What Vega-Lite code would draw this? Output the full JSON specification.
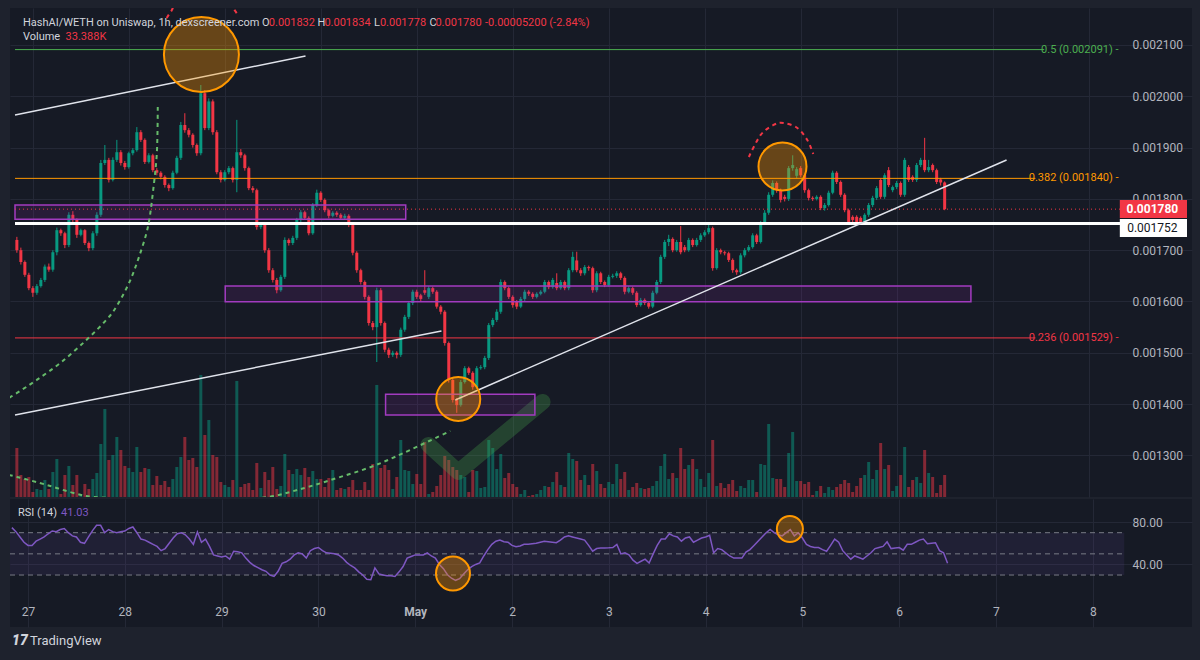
{
"$schema":"https://vega.github.io/schema/vega-lite/v6.json",
"background":"#1e222d",
"padding":{"left":8,"top":8,"right":10,"bottom":5},
"spacing":2,
"config":{"view":{"stroke":null},"font":"Roboto","axis":{"labelFont":"Roboto"},"text":{"font":"Roboto"}},
"datasets":{"k":[
{"t":"2024-04-26T20:00","o":0.001720,"h":0.001726,"l":0.001695,"c":0.001700,"v":74480,"r":74.8},
{"t":"2024-04-26T21:00","o":0.001700,"h":0.001705,"l":0.001672,"c":0.001677,"v":33440,"r":71},
{"t":"2024-04-26T22:00","o":0.001677,"h":0.001680,"l":0.001648,"c":0.001652,"v":27360,"r":66},
{"t":"2024-04-26T23:00","o":0.001652,"h":0.001656,"l":0.001622,"c":0.001626,"v":30400,"r":61},
{"t":"2024-04-27T00:00","o":0.001626,"h":0.001630,"l":0.001609,"c":0.001617,"v":7600,"r":58},
{"t":"2024-04-27T01:00","o":0.001617,"h":0.001634,"l":0.001613,"c":0.001630,"v":12160,"r":58},
{"t":"2024-04-27T02:00","o":0.001630,"h":0.001646,"l":0.001627,"c":0.001642,"v":10640,"r":62},
{"t":"2024-04-27T03:00","o":0.001642,"h":0.001672,"l":0.001638,"c":0.001668,"v":25840,"r":64},
{"t":"2024-04-27T04:00","o":0.001668,"h":0.001674,"l":0.001658,"c":0.001662,"v":12160,"r":66},
{"t":"2024-04-27T05:00","o":0.001662,"h":0.001700,"l":0.001658,"c":0.001696,"v":38000,"r":69},
{"t":"2024-04-27T06:00","o":0.001696,"h":0.001744,"l":0.001690,"c":0.001739,"v":57760,"r":71.6},
{"t":"2024-04-27T07:00","o":0.001739,"h":0.001742,"l":0.001728,"c":0.001733,"v":4560,"r":71},
{"t":"2024-04-27T08:00","o":0.001733,"h":0.001736,"l":0.001704,"c":0.001710,"v":33440,"r":73},
{"t":"2024-04-27T09:00","o":0.001710,"h":0.001774,"l":0.001706,"c":0.001769,"v":47120,"r":74},
{"t":"2024-04-27T10:00","o":0.001769,"h":0.001776,"l":0.001754,"c":0.001759,"v":18240,"r":70},
{"t":"2024-04-27T11:00","o":0.001759,"h":0.001762,"l":0.001724,"c":0.001730,"v":33440,"r":67},
{"t":"2024-04-27T12:00","o":0.001730,"h":0.001742,"l":0.001727,"c":0.001739,"v":4560,"r":66},
{"t":"2024-04-27T13:00","o":0.001739,"h":0.001741,"l":0.001710,"c":0.001714,"v":19760,"r":61},
{"t":"2024-04-27T14:00","o":0.001714,"h":0.001717,"l":0.001698,"c":0.001704,"v":12160,"r":60},
{"t":"2024-04-27T15:00","o":0.001704,"h":0.001737,"l":0.001700,"c":0.001733,"v":27360,"r":66},
{"t":"2024-04-27T16:00","o":0.001733,"h":0.001774,"l":0.001728,"c":0.001769,"v":36480,"r":72},
{"t":"2024-04-27T17:00","o":0.001769,"h":0.001876,"l":0.001765,"c":0.001870,"v":80560,"r":77},
{"t":"2024-04-27T18:00","o":0.001870,"h":0.001905,"l":0.001866,"c":0.001876,"v":133760,"r":77},
{"t":"2024-04-27T19:00","o":0.001876,"h":0.001880,"l":0.001832,"c":0.001837,"v":56240,"r":70},
{"t":"2024-04-27T20:00","o":0.001837,"h":0.001881,"l":0.001834,"c":0.001876,"v":63840,"r":73},
{"t":"2024-04-27T21:00","o":0.001876,"h":0.001915,"l":0.001872,"c":0.001891,"v":91200,"r":71},
{"t":"2024-04-27T22:00","o":0.001891,"h":0.001895,"l":0.001865,"c":0.001870,"v":71440,"r":70},
{"t":"2024-04-27T23:00","o":0.001870,"h":0.001874,"l":0.001857,"c":0.001862,"v":47120,"r":71},
{"t":"2024-04-28T00:00","o":0.001862,"h":0.001892,"l":0.001859,"c":0.001889,"v":44080,"r":71.5},
{"t":"2024-04-28T01:00","o":0.001889,"h":0.001899,"l":0.001885,"c":0.001895,"v":38000,"r":74},
{"t":"2024-04-28T02:00","o":0.001895,"h":0.001940,"l":0.001892,"c":0.001930,"v":76000,"r":75.4},
{"t":"2024-04-28T03:00","o":0.001930,"h":0.001934,"l":0.001911,"c":0.001915,"v":38000,"r":70},
{"t":"2024-04-28T04:00","o":0.001915,"h":0.001918,"l":0.001868,"c":0.001872,"v":44080,"r":64},
{"t":"2024-04-28T05:00","o":0.001872,"h":0.001889,"l":0.001869,"c":0.001885,"v":42560,"r":63},
{"t":"2024-04-28T06:00","o":0.001885,"h":0.001888,"l":0.001852,"c":0.001856,"v":18240,"r":61},
{"t":"2024-04-28T07:00","o":0.001856,"h":0.001860,"l":0.001846,"c":0.001851,"v":31920,"r":59},
{"t":"2024-04-28T08:00","o":0.001851,"h":0.001854,"l":0.001838,"c":0.001843,"v":18240,"r":57},
{"t":"2024-04-28T09:00","o":0.001843,"h":0.001846,"l":0.001822,"c":0.001827,"v":24320,"r":53},
{"t":"2024-04-28T10:00","o":0.001827,"h":0.001830,"l":0.001815,"c":0.001821,"v":15200,"r":55},
{"t":"2024-04-28T11:00","o":0.001821,"h":0.001855,"l":0.001818,"c":0.001851,"v":27360,"r":60},
{"t":"2024-04-28T12:00","o":0.001851,"h":0.001884,"l":0.001848,"c":0.001880,"v":45600,"r":65},
{"t":"2024-04-28T13:00","o":0.001880,"h":0.001950,"l":0.001876,"c":0.001944,"v":60800,"r":69},
{"t":"2024-04-28T14:00","o":0.001944,"h":0.001967,"l":0.001929,"c":0.001934,"v":91200,"r":70},
{"t":"2024-04-28T15:00","o":0.001934,"h":0.001938,"l":0.001920,"c":0.001925,"v":56240,"r":68},
{"t":"2024-04-28T16:00","o":0.001925,"h":0.001928,"l":0.001900,"c":0.001905,"v":59280,"r":64},
{"t":"2024-04-28T17:00","o":0.001905,"h":0.001908,"l":0.001884,"c":0.001889,"v":45600,"r":59},
{"t":"2024-04-28T18:00","o":0.001889,"h":0.002022,"l":0.001885,"c":0.002006,"v":185440,"r":70.6},
{"t":"2024-04-28T19:00","o":0.002006,"h":0.002012,"l":0.001934,"c":0.001938,"v":94240,"r":61},
{"t":"2024-04-28T20:00","o":0.001938,"h":0.001996,"l":0.001934,"c":0.001990,"v":117040,"r":64},
{"t":"2024-04-28T21:00","o":0.001990,"h":0.001994,"l":0.001925,"c":0.001930,"v":63840,"r":57},
{"t":"2024-04-28T22:00","o":0.001930,"h":0.001934,"l":0.001848,"c":0.001852,"v":60800,"r":49},
{"t":"2024-04-28T23:00","o":0.001852,"h":0.001856,"l":0.001832,"c":0.001837,"v":22800,"r":48},
{"t":"2024-04-29T00:00","o":0.001837,"h":0.001856,"l":0.001834,"c":0.001852,"v":18240,"r":47},
{"t":"2024-04-29T01:00","o":0.001852,"h":0.001864,"l":0.001848,"c":0.001860,"v":15200,"r":48},
{"t":"2024-04-29T02:00","o":0.001860,"h":0.001863,"l":0.001832,"c":0.001837,"v":25840,"r":45},
{"t":"2024-04-29T03:00","o":0.001837,"h":0.001954,"l":0.001813,"c":0.001891,"v":176320,"r":52.5},
{"t":"2024-04-29T04:00","o":0.001891,"h":0.001897,"l":0.001880,"c":0.001885,"v":15200,"r":52},
{"t":"2024-04-29T05:00","o":0.001885,"h":0.001888,"l":0.001855,"c":0.001860,"v":19760,"r":51},
{"t":"2024-04-29T06:00","o":0.001860,"h":0.001863,"l":0.001817,"c":0.001821,"v":21280,"r":46},
{"t":"2024-04-29T07:00","o":0.001821,"h":0.001825,"l":0.001812,"c":0.001817,"v":10640,"r":42},
{"t":"2024-04-29T08:00","o":0.001817,"h":0.001820,"l":0.001740,"c":0.001745,"v":51680,"r":39},
{"t":"2024-04-29T09:00","o":0.001745,"h":0.001753,"l":0.001741,"c":0.001749,"v":13680,"r":37},
{"t":"2024-04-29T10:00","o":0.001749,"h":0.001752,"l":0.001695,"c":0.001700,"v":38000,"r":35},
{"t":"2024-04-29T11:00","o":0.001700,"h":0.001704,"l":0.001656,"c":0.001661,"v":25840,"r":33.5},
{"t":"2024-04-29T12:00","o":0.001661,"h":0.001665,"l":0.001637,"c":0.001642,"v":45600,"r":30},
{"t":"2024-04-29T13:00","o":0.001642,"h":0.001646,"l":0.001616,"c":0.001622,"v":12160,"r":28.7},
{"t":"2024-04-29T14:00","o":0.001622,"h":0.001652,"l":0.001619,"c":0.001648,"v":16720,"r":33.5},
{"t":"2024-04-29T15:00","o":0.001648,"h":0.001725,"l":0.001644,"c":0.001720,"v":65360,"r":41},
{"t":"2024-04-29T16:00","o":0.001720,"h":0.001723,"l":0.001709,"c":0.001714,"v":41040,"r":42.5},
{"t":"2024-04-29T17:00","o":0.001714,"h":0.001728,"l":0.001710,"c":0.001724,"v":34960,"r":45},
{"t":"2024-04-29T18:00","o":0.001724,"h":0.001763,"l":0.001720,"c":0.001759,"v":42560,"r":49},
{"t":"2024-04-29T19:00","o":0.001759,"h":0.001778,"l":0.001755,"c":0.001774,"v":33440,"r":51},
{"t":"2024-04-29T20:00","o":0.001774,"h":0.001777,"l":0.001759,"c":0.001763,"v":44080,"r":50},
{"t":"2024-04-29T21:00","o":0.001763,"h":0.001766,"l":0.001729,"c":0.001733,"v":30400,"r":46},
{"t":"2024-04-29T22:00","o":0.001733,"h":0.001792,"l":0.001730,"c":0.001788,"v":39520,"r":53},
{"t":"2024-04-29T23:00","o":0.001788,"h":0.001818,"l":0.001784,"c":0.001812,"v":27360,"r":55},
{"t":"2024-04-30T00:00","o":0.001812,"h":0.001815,"l":0.001794,"c":0.001798,"v":27360,"r":56},
{"t":"2024-04-30T01:00","o":0.001798,"h":0.001801,"l":0.001774,"c":0.001778,"v":15200,"r":53},
{"t":"2024-04-30T02:00","o":0.001778,"h":0.001781,"l":0.001762,"c":0.001767,"v":28880,"r":51},
{"t":"2024-04-30T03:00","o":0.001767,"h":0.001776,"l":0.001764,"c":0.001773,"v":41040,"r":50.5},
{"t":"2024-04-30T04:00","o":0.001773,"h":0.001776,"l":0.001765,"c":0.001769,"v":10640,"r":50},
{"t":"2024-04-30T05:00","o":0.001769,"h":0.001772,"l":0.001759,"c":0.001763,"v":13680,"r":49},
{"t":"2024-04-30T06:00","o":0.001763,"h":0.001771,"l":0.001760,"c":0.001767,"v":12160,"r":46},
{"t":"2024-04-30T07:00","o":0.001767,"h":0.001770,"l":0.001745,"c":0.001749,"v":15200,"r":42},
{"t":"2024-04-30T08:00","o":0.001749,"h":0.001752,"l":0.001690,"c":0.001695,"v":25840,"r":39},
{"t":"2024-04-30T09:00","o":0.001695,"h":0.001698,"l":0.001656,"c":0.001661,"v":10640,"r":36.7},
{"t":"2024-04-30T10:00","o":0.001661,"h":0.001664,"l":0.001633,"c":0.001638,"v":10640,"r":33},
{"t":"2024-04-30T11:00","o":0.001638,"h":0.001641,"l":0.001604,"c":0.001609,"v":22800,"r":30},
{"t":"2024-04-30T12:00","o":0.001609,"h":0.001612,"l":0.001553,"c":0.001558,"v":10640,"r":26},
{"t":"2024-04-30T13:00","o":0.001558,"h":0.001562,"l":0.001544,"c":0.001550,"v":50160,"r":25.6},
{"t":"2024-04-30T14:00","o":0.001550,"h":0.001627,"l":0.001482,"c":0.001622,"v":170240,"r":36.7},
{"t":"2024-04-30T15:00","o":0.001622,"h":0.001626,"l":0.001553,"c":0.001558,"v":44080,"r":31},
{"t":"2024-04-30T16:00","o":0.001558,"h":0.001561,"l":0.001501,"c":0.001506,"v":48640,"r":30},
{"t":"2024-04-30T17:00","o":0.001506,"h":0.001510,"l":0.001490,"c":0.001496,"v":41040,"r":29.4},
{"t":"2024-04-30T18:00","o":0.001496,"h":0.001504,"l":0.001492,"c":0.001500,"v":12160,"r":29.4},
{"t":"2024-04-30T19:00","o":0.001500,"h":0.001503,"l":0.001489,"c":0.001496,"v":30400,"r":28.7},
{"t":"2024-04-30T20:00","o":0.001496,"h":0.001549,"l":0.001492,"c":0.001545,"v":86640,"r":33},
{"t":"2024-04-30T21:00","o":0.001545,"h":0.001574,"l":0.001541,"c":0.001570,"v":41040,"r":38},
{"t":"2024-04-30T22:00","o":0.001570,"h":0.001601,"l":0.001566,"c":0.001597,"v":39520,"r":46},
{"t":"2024-04-30T23:00","o":0.001597,"h":0.001623,"l":0.001593,"c":0.001619,"v":19760,"r":47.5},
{"t":"2024-05-01T00:00","o":0.001619,"h":0.001623,"l":0.001605,"c":0.001609,"v":34960,"r":49},
{"t":"2024-05-01T01:00","o":0.001612,"h":0.001615,"l":0.001600,"c":0.001605,"v":19760,"r":49},
{"t":"2024-05-01T02:00","o":0.001622,"h":0.001661,"l":0.001613,"c":0.001617,"v":83600,"r":49},
{"t":"2024-05-01T03:00","o":0.001609,"h":0.001630,"l":0.001605,"c":0.001626,"v":4560,"r":51},
{"t":"2024-05-01T04:00","o":0.001626,"h":0.001629,"l":0.001615,"c":0.001619,"v":7600,"r":48},
{"t":"2024-05-01T05:00","o":0.001619,"h":0.001622,"l":0.001586,"c":0.001590,"v":16720,"r":46},
{"t":"2024-05-01T06:00","o":0.001590,"h":0.001593,"l":0.001575,"c":0.001580,"v":33440,"r":40},
{"t":"2024-05-01T07:00","o":0.001580,"h":0.001583,"l":0.001514,"c":0.001519,"v":62320,"r":36},
{"t":"2024-05-01T08:00","o":0.001519,"h":0.001522,"l":0.001442,"c":0.001447,"v":56240,"r":30.3},
{"t":"2024-05-01T09:00","o":0.001447,"h":0.001450,"l":0.001403,"c":0.001408,"v":45600,"r":27},
{"t":"2024-05-01T10:00","o":0.001408,"h":0.001412,"l":0.001383,"c":0.001398,"v":41040,"r":25},
{"t":"2024-05-01T11:00","o":0.001398,"h":0.001447,"l":0.001395,"c":0.001443,"v":33440,"r":26.5},
{"t":"2024-05-01T12:00","o":0.001443,"h":0.001474,"l":0.001440,"c":0.001470,"v":30400,"r":31},
{"t":"2024-05-01T13:00","o":0.001470,"h":0.001473,"l":0.001457,"c":0.001461,"v":7600,"r":35},
{"t":"2024-05-01T14:00","o":0.001461,"h":0.001464,"l":0.001428,"c":0.001433,"v":41040,"r":38},
{"t":"2024-05-01T15:00","o":0.001433,"h":0.001474,"l":0.001430,"c":0.001470,"v":39520,"r":40},
{"t":"2024-05-01T16:00","o":0.001470,"h":0.001476,"l":0.001467,"c":0.001472,"v":13680,"r":41.4},
{"t":"2024-05-01T17:00","o":0.001472,"h":0.001494,"l":0.001468,"c":0.001490,"v":15200,"r":48},
{"t":"2024-05-01T18:00","o":0.001490,"h":0.001558,"l":0.001486,"c":0.001554,"v":86640,"r":54},
{"t":"2024-05-01T19:00","o":0.001554,"h":0.001568,"l":0.001550,"c":0.001564,"v":74480,"r":59},
{"t":"2024-05-01T20:00","o":0.001564,"h":0.001585,"l":0.001560,"c":0.001580,"v":42560,"r":62},
{"t":"2024-05-01T21:00","o":0.001580,"h":0.001643,"l":0.001576,"c":0.001638,"v":65360,"r":63},
{"t":"2024-05-01T22:00","o":0.001638,"h":0.001641,"l":0.001622,"c":0.001626,"v":28880,"r":61.5},
{"t":"2024-05-01T23:00","o":0.001626,"h":0.001629,"l":0.001605,"c":0.001609,"v":36480,"r":61},
{"t":"2024-05-02T00:00","o":0.001609,"h":0.001612,"l":0.001588,"c":0.001593,"v":19760,"r":58},
{"t":"2024-05-02T01:00","o":0.001600,"h":0.001603,"l":0.001585,"c":0.001590,"v":15200,"r":56.7},
{"t":"2024-05-02T02:00","o":0.001590,"h":0.001609,"l":0.001587,"c":0.001605,"v":4560,"r":57.5},
{"t":"2024-05-02T03:00","o":0.001605,"h":0.001623,"l":0.001601,"c":0.001619,"v":10640,"r":59},
{"t":"2024-05-02T04:00","o":0.001619,"h":0.001622,"l":0.001611,"c":0.001615,"v":1520,"r":59},
{"t":"2024-05-02T05:00","o":0.001615,"h":0.001618,"l":0.001605,"c":0.001609,"v":3040,"r":59.5},
{"t":"2024-05-02T06:00","o":0.001609,"h":0.001618,"l":0.001606,"c":0.001615,"v":4560,"r":60},
{"t":"2024-05-02T07:00","o":0.001615,"h":0.001622,"l":0.001612,"c":0.001619,"v":10640,"r":61},
{"t":"2024-05-02T08:00","o":0.001619,"h":0.001642,"l":0.001616,"c":0.001638,"v":16720,"r":62},
{"t":"2024-05-02T09:00","o":0.001638,"h":0.001641,"l":0.001624,"c":0.001628,"v":15200,"r":61.5},
{"t":"2024-05-02T10:00","o":0.001628,"h":0.001646,"l":0.001625,"c":0.001642,"v":22800,"r":61},
{"t":"2024-05-02T11:00","o":0.001636,"h":0.001655,"l":0.001622,"c":0.001626,"v":38000,"r":60.5},
{"t":"2024-05-02T12:00","o":0.001626,"h":0.001642,"l":0.001623,"c":0.001638,"v":18240,"r":63},
{"t":"2024-05-02T13:00","o":0.001638,"h":0.001641,"l":0.001622,"c":0.001626,"v":15200,"r":66},
{"t":"2024-05-02T14:00","o":0.001626,"h":0.001665,"l":0.001622,"c":0.001661,"v":66880,"r":67},
{"t":"2024-05-02T15:00","o":0.001661,"h":0.001697,"l":0.001657,"c":0.001687,"v":57760,"r":66},
{"t":"2024-05-02T16:00","o":0.001680,"h":0.001697,"l":0.001657,"c":0.001661,"v":54720,"r":65},
{"t":"2024-05-02T17:00","o":0.001661,"h":0.001665,"l":0.001650,"c":0.001655,"v":25840,"r":64},
{"t":"2024-05-02T18:00","o":0.001655,"h":0.001671,"l":0.001651,"c":0.001667,"v":33440,"r":63},
{"t":"2024-05-02T19:00","o":0.001667,"h":0.001670,"l":0.001660,"c":0.001665,"v":18240,"r":58},
{"t":"2024-05-02T20:00","o":0.001665,"h":0.001668,"l":0.001617,"c":0.001622,"v":50160,"r":52.5},
{"t":"2024-05-02T21:00","o":0.001622,"h":0.001659,"l":0.001618,"c":0.001655,"v":39520,"r":55},
{"t":"2024-05-02T22:00","o":0.001655,"h":0.001658,"l":0.001634,"c":0.001638,"v":19760,"r":55.5},
{"t":"2024-05-02T23:00","o":0.001638,"h":0.001641,"l":0.001628,"c":0.001632,"v":13680,"r":55.5},
{"t":"2024-05-03T00:00","o":0.001632,"h":0.001652,"l":0.001629,"c":0.001648,"v":22800,"r":55.7},
{"t":"2024-05-03T01:00","o":0.001648,"h":0.001654,"l":0.001645,"c":0.001650,"v":19760,"r":56},
{"t":"2024-05-03T02:00","o":0.001650,"h":0.001659,"l":0.001646,"c":0.001655,"v":50160,"r":59},
{"t":"2024-05-03T03:00","o":0.001655,"h":0.001658,"l":0.001642,"c":0.001646,"v":27360,"r":50},
{"t":"2024-05-03T04:00","o":0.001646,"h":0.001649,"l":0.001614,"c":0.001619,"v":38000,"r":51},
{"t":"2024-05-03T05:00","o":0.001619,"h":0.001630,"l":0.001616,"c":0.001626,"v":10640,"r":49},
{"t":"2024-05-03T06:00","o":0.001626,"h":0.001629,"l":0.001613,"c":0.001617,"v":15200,"r":44},
{"t":"2024-05-03T07:00","o":0.001617,"h":0.001620,"l":0.001589,"c":0.001593,"v":21280,"r":41},
{"t":"2024-05-03T08:00","o":0.001593,"h":0.001607,"l":0.001590,"c":0.001603,"v":13680,"r":43},
{"t":"2024-05-03T09:00","o":0.001603,"h":0.001606,"l":0.001593,"c":0.001597,"v":12160,"r":45},
{"t":"2024-05-03T10:00","o":0.001597,"h":0.001600,"l":0.001586,"c":0.001590,"v":13680,"r":41.4},
{"t":"2024-05-03T11:00","o":0.001590,"h":0.001621,"l":0.001587,"c":0.001617,"v":16720,"r":50},
{"t":"2024-05-03T12:00","o":0.001617,"h":0.001642,"l":0.001614,"c":0.001638,"v":24320,"r":58},
{"t":"2024-05-03T13:00","o":0.001638,"h":0.001691,"l":0.001634,"c":0.001687,"v":47120,"r":64},
{"t":"2024-05-03T14:00","o":0.001687,"h":0.001720,"l":0.001683,"c":0.001716,"v":65360,"r":64},
{"t":"2024-05-03T15:00","o":0.001716,"h":0.001730,"l":0.001708,"c":0.001722,"v":27360,"r":69},
{"t":"2024-05-03T16:00","o":0.001722,"h":0.001725,"l":0.001696,"c":0.001700,"v":36480,"r":67},
{"t":"2024-05-03T17:00","o":0.001700,"h":0.001720,"l":0.001697,"c":0.001716,"v":28880,"r":66},
{"t":"2024-05-03T18:00","o":0.001716,"h":0.001747,"l":0.001692,"c":0.001696,"v":74480,"r":62},
{"t":"2024-05-03T19:00","o":0.001706,"h":0.001710,"l":0.001696,"c":0.001700,"v":42560,"r":65},
{"t":"2024-05-03T20:00","o":0.001700,"h":0.001724,"l":0.001697,"c":0.001720,"v":48640,"r":66},
{"t":"2024-05-03T21:00","o":0.001720,"h":0.001723,"l":0.001706,"c":0.001710,"v":57760,"r":61},
{"t":"2024-05-03T22:00","o":0.001710,"h":0.001724,"l":0.001707,"c":0.001720,"v":42560,"r":63},
{"t":"2024-05-03T23:00","o":0.001720,"h":0.001733,"l":0.001716,"c":0.001729,"v":27360,"r":65},
{"t":"2024-05-04T00:00","o":0.001729,"h":0.001739,"l":0.001726,"c":0.001735,"v":15200,"r":66},
{"t":"2024-05-04T01:00","o":0.001735,"h":0.001751,"l":0.001731,"c":0.001743,"v":36480,"r":67.5},
{"t":"2024-05-04T02:00","o":0.001743,"h":0.001746,"l":0.001660,"c":0.001665,"v":86640,"r":51},
{"t":"2024-05-04T03:00","o":0.001665,"h":0.001704,"l":0.001662,"c":0.001700,"v":16720,"r":55},
{"t":"2024-05-04T04:00","o":0.001700,"h":0.001703,"l":0.001692,"c":0.001696,"v":21280,"r":54},
{"t":"2024-05-04T05:00","o":0.001696,"h":0.001699,"l":0.001690,"c":0.001694,"v":13680,"r":51},
{"t":"2024-05-04T06:00","o":0.001694,"h":0.001697,"l":0.001677,"c":0.001681,"v":19760,"r":48},
{"t":"2024-05-04T07:00","o":0.001681,"h":0.001684,"l":0.001656,"c":0.001661,"v":25840,"r":46},
{"t":"2024-05-04T08:00","o":0.001661,"h":0.001664,"l":0.001652,"c":0.001657,"v":9120,"r":46},
{"t":"2024-05-04T09:00","o":0.001657,"h":0.001694,"l":0.001653,"c":0.001690,"v":16720,"r":46},
{"t":"2024-05-04T10:00","o":0.001690,"h":0.001704,"l":0.001686,"c":0.001700,"v":13680,"r":51.6},
{"t":"2024-05-04T11:00","o":0.001700,"h":0.001710,"l":0.001697,"c":0.001706,"v":25840,"r":54},
{"t":"2024-05-04T12:00","o":0.001706,"h":0.001733,"l":0.001703,"c":0.001729,"v":25840,"r":58},
{"t":"2024-05-04T13:00","o":0.001729,"h":0.001732,"l":0.001712,"c":0.001716,"v":7600,"r":62},
{"t":"2024-05-04T14:00","o":0.001716,"h":0.001757,"l":0.001713,"c":0.001753,"v":50160,"r":66},
{"t":"2024-05-04T15:00","o":0.001753,"h":0.001778,"l":0.001749,"c":0.001773,"v":48640,"r":70},
{"t":"2024-05-04T16:00","o":0.001773,"h":0.001813,"l":0.001769,"c":0.001808,"v":110960,"r":73},
{"t":"2024-05-04T17:00","o":0.001808,"h":0.001836,"l":0.001804,"c":0.001831,"v":28880,"r":70},
{"t":"2024-05-04T18:00","o":0.001831,"h":0.001834,"l":0.001812,"c":0.001817,"v":27360,"r":68},
{"t":"2024-05-04T19:00","o":0.001817,"h":0.001820,"l":0.001793,"c":0.001798,"v":27360,"r":67},
{"t":"2024-05-04T20:00","o":0.001804,"h":0.001808,"l":0.001795,"c":0.001800,"v":15200,"r":70},
{"t":"2024-05-04T21:00","o":0.001800,"h":0.001864,"l":0.001796,"c":0.001860,"v":66880,"r":73},
{"t":"2024-05-04T22:00","o":0.001860,"h":0.001885,"l":0.001855,"c":0.001866,"v":98800,"r":67},
{"t":"2024-05-04T23:00","o":0.001845,"h":0.001862,"l":0.001840,"c":0.001858,"v":24320,"r":70},
{"t":"2024-05-05T00:00","o":0.001860,"h":0.001864,"l":0.001842,"c":0.001846,"v":24320,"r":65},
{"t":"2024-05-05T01:00","o":0.001846,"h":0.001849,"l":0.001812,"c":0.001817,"v":19760,"r":59},
{"t":"2024-05-05T02:00","o":0.001817,"h":0.001820,"l":0.001797,"c":0.001802,"v":22800,"r":57},
{"t":"2024-05-05T03:00","o":0.001802,"h":0.001805,"l":0.001796,"c":0.001800,"v":3040,"r":56},
{"t":"2024-05-05T04:00","o":0.001800,"h":0.001807,"l":0.001797,"c":0.001804,"v":9120,"r":56},
{"t":"2024-05-05T05:00","o":0.001804,"h":0.001807,"l":0.001778,"c":0.001782,"v":16720,"r":54},
{"t":"2024-05-05T06:00","o":0.001782,"h":0.001792,"l":0.001777,"c":0.001788,"v":6080,"r":52.5},
{"t":"2024-05-05T07:00","o":0.001788,"h":0.001816,"l":0.001785,"c":0.001812,"v":15200,"r":58},
{"t":"2024-05-05T08:00","o":0.001812,"h":0.001855,"l":0.001809,"c":0.001851,"v":10640,"r":64},
{"t":"2024-05-05T09:00","o":0.001851,"h":0.001854,"l":0.001829,"c":0.001833,"v":15200,"r":61},
{"t":"2024-05-05T10:00","o":0.001833,"h":0.001836,"l":0.001804,"c":0.001808,"v":19760,"r":53},
{"t":"2024-05-05T11:00","o":0.001808,"h":0.001811,"l":0.001774,"c":0.001778,"v":25840,"r":49},
{"t":"2024-05-05T12:00","o":0.001778,"h":0.001781,"l":0.001751,"c":0.001755,"v":21280,"r":45},
{"t":"2024-05-05T13:00","o":0.001765,"h":0.001768,"l":0.001754,"c":0.001759,"v":7600,"r":48},
{"t":"2024-05-05T14:00","o":0.001765,"h":0.001768,"l":0.001752,"c":0.001755,"v":16720,"r":46.5},
{"t":"2024-05-05T15:00","o":0.001763,"h":0.001766,"l":0.001751,"c":0.001755,"v":28880,"r":45},
{"t":"2024-05-05T16:00","o":0.001755,"h":0.001772,"l":0.001751,"c":0.001769,"v":33440,"r":48},
{"t":"2024-05-05T17:00","o":0.001769,"h":0.001792,"l":0.001765,"c":0.001788,"v":53200,"r":51},
{"t":"2024-05-05T18:00","o":0.001788,"h":0.001806,"l":0.001784,"c":0.001802,"v":27360,"r":55},
{"t":"2024-05-05T19:00","o":0.001802,"h":0.001825,"l":0.001798,"c":0.001821,"v":41040,"r":56},
{"t":"2024-05-05T20:00","o":0.001837,"h":0.001840,"l":0.001800,"c":0.001804,"v":82080,"r":57},
{"t":"2024-05-05T21:00","o":0.001804,"h":0.001850,"l":0.001800,"c":0.001846,"v":42560,"r":61.4},
{"t":"2024-05-05T22:00","o":0.001856,"h":0.001862,"l":0.001823,"c":0.001827,"v":48640,"r":55},
{"t":"2024-05-05T23:00","o":0.001817,"h":0.001826,"l":0.001813,"c":0.001823,"v":9120,"r":55.5},
{"t":"2024-05-06T00:00","o":0.001823,"h":0.001835,"l":0.001819,"c":0.001831,"v":16720,"r":56},
{"t":"2024-05-06T01:00","o":0.001831,"h":0.001834,"l":0.001804,"c":0.001808,"v":33440,"r":53.5},
{"t":"2024-05-06T02:00","o":0.001808,"h":0.001880,"l":0.001804,"c":0.001876,"v":76000,"r":59},
{"t":"2024-05-06T03:00","o":0.001862,"h":0.001866,"l":0.001833,"c":0.001837,"v":15200,"r":59},
{"t":"2024-05-06T04:00","o":0.001843,"h":0.001846,"l":0.001833,"c":0.001837,"v":25840,"r":61},
{"t":"2024-05-06T05:00","o":0.001837,"h":0.001870,"l":0.001833,"c":0.001866,"v":30400,"r":63},
{"t":"2024-05-06T06:00","o":0.001866,"h":0.001880,"l":0.001862,"c":0.001876,"v":21280,"r":64},
{"t":"2024-05-06T07:00","o":0.001876,"h":0.001919,"l":0.001852,"c":0.001856,"v":71440,"r":59.5},
{"t":"2024-05-06T08:00","o":0.001856,"h":0.001876,"l":0.001852,"c":0.001862,"v":36480,"r":60},
{"t":"2024-05-06T09:00","o":0.001866,"h":0.001869,"l":0.001852,"c":0.001856,"v":30400,"r":60.5},
{"t":"2024-05-06T10:00","o":0.001856,"h":0.001859,"l":0.001829,"c":0.001833,"v":6080,"r":53},
{"t":"2024-05-06T11:00","o":0.001838,"h":0.001841,"l":0.001826,"c":0.001832,"v":18240,"r":51},
{"t":"2024-05-06T12:00","o":0.001832,"h":0.001834,"l":0.001778,"c":0.001780,"v":33388,"r":41.03}
]},
"vconcat":[
{
"width":1182,"height":489,
"view":{"fill":"#161a25","stroke":null},
"resolve":{"scale":{"y":"independent"}},
"layer":[
{"data":{"name":"k"},
 "mark":{"type":"bar","size":3,"opacity":0.5},
 "encoding":{
  "x":{"field":"t","type":"temporal","scale":{"domain":[{"year":2024,"month":4,"date":26,"hours":19,"minutes":32},{"year":2024,"month":5,"date":9,"hours":0,"minutes":36}]},
       "axis":{"values":[{"year":2024,"month":4,"date":27},{"year":2024,"month":4,"date":28},{"year":2024,"month":4,"date":29},{"year":2024,"month":4,"date":30},{"year":2024,"month":5,"date":1},{"year":2024,"month":5,"date":2},{"year":2024,"month":5,"date":3},{"year":2024,"month":5,"date":4},{"year":2024,"month":5,"date":5},{"year":2024,"month":5,"date":6},{"year":2024,"month":5,"date":7},{"year":2024,"month":5,"date":8}],"labels":false,"ticks":false,"domain":false,"grid":true,"gridColor":"#242836","title":null}},
  "y":{"field":"v","type":"quantitative","scale":{"domain":[0,743000]},"axis":null},
  "color":{"condition":{"test":"datum.c >= datum.o","value":"#089981"},"value":"#f23645"}
 }},
{"layer":[
 {"data":{"values":[{"t":"2024-05-01T02:56","p":0.0013204,"n":0},{"t":"2024-05-01T10:22","p":0.0012678,"n":1},{"t":"2024-05-02T07:27","p":0.0014042,"n":2}]},
  "mark":{"type":"line","strokeWidth":16,"color":"#4caf50","opacity":0.28,"strokeCap":"round","strokeJoin":"round","clip":true},
  "encoding":{"x":{"field":"t","type":"temporal"},"y":{"field":"p","type":"quantitative"},"order":{"field":"n"}}},
 {"data":{"name":"k"},
  "mark":{"type":"rule","strokeWidth":1},
  "encoding":{
   "x":{"field":"t","type":"temporal"},
   "y":{"field":"l","type":"quantitative","scale":{"domain":[0.0012189,0.0021721],"nice":false,"zero":false},
        "axis":{"orient":"right","offset":-65,"values":[0.0013,0.0014,0.0015,0.0016,0.0017,0.0018,0.0019,0.002,0.0021],"format":".6f","labelColor":"#b2b5be","labelFontSize":12,"labelPadding":5,"labelAlign":"left","ticks":false,"tickSize":0,"domain":false,"grid":true,"gridColor":"#242836","title":null}},
   "y2":{"field":"h"},
   "color":{"condition":{"test":"datum.c >= datum.o","value":"#089981"},"value":"#f23645"}
  }},
 {"data":{"name":"k"},
  "mark":{"type":"bar","size":3},
  "encoding":{"x":{"field":"t","type":"temporal"},"y":{"field":"o","type":"quantitative"},"y2":{"field":"c"},
   "color":{"condition":{"test":"datum.c >= datum.o","value":"#089981"},"value":"#f23645"}}},
 {"data":{"values":[
   {"t1":"2024-04-26T19:32","t2":"2024-04-30T21:14","p1":0.0017882,"p2":0.0017603},
   {"t1":"2024-04-29T00:06","t2":"2024-05-06T18:34","p1":0.0016303,"p2":0.0015997},
   {"t1":"2024-04-30T16:12","t2":"2024-05-02T05:32","p1":0.0014192,"p2":0.0013789}]},
  "mark":{"type":"rect","fill":"#9c27b0","fillOpacity":0.14,"stroke":"#a23bc0","strokeWidth":1.5,"clip":true},
  "encoding":{"x":{"field":"t1","type":"temporal"},"x2":{"field":"t2"},"y":{"field":"p1","type":"quantitative"},"y2":{"field":"p2"}}},
 {"data":{"values":[{"p":0.002091,"t1":"2024-04-26T19:32","t2":"2024-05-07T12:54","tl":"2024-05-08T07:30","s":"0.5 (0.002091) -"}]},
  "layer":[
   {"mark":{"type":"rule","color":"#4caf50","strokeWidth":1},"encoding":{"x":{"field":"t1","type":"temporal"},"x2":{"field":"t2"},"y":{"field":"p","type":"quantitative"}}},
   {"mark":{"type":"text","color":"#4caf50","fontSize":11,"align":"right","baseline":"middle"},"encoding":{"x":{"field":"tl","type":"temporal"},"y":{"field":"p","type":"quantitative"},"text":{"field":"s"}}}]},
 {"data":{"values":[{"p":0.00184,"t1":"2024-04-26T19:32","t2":"2024-05-07T10:42","tl":"2024-05-08T07:30","s":"0.382 (0.001840) -"}]},
  "layer":[
   {"mark":{"type":"rule","color":"#ff9800","strokeWidth":1},"encoding":{"x":{"field":"t1","type":"temporal"},"x2":{"field":"t2"},"y":{"field":"p","type":"quantitative"}}},
   {"mark":{"type":"text","color":"#ff9800","fontSize":11,"align":"right","baseline":"middle"},"encoding":{"x":{"field":"tl","type":"temporal"},"y":{"field":"p","type":"quantitative"},"text":{"field":"s"}}}]},
 {"data":{"values":[{"p":0.001529,"t1":"2024-04-26T19:32","t2":"2024-05-07T10:42","tl":"2024-05-08T07:30","s":"0.236 (0.001529) -"}]},
  "layer":[
   {"mark":{"type":"rule","color":"#f23645","strokeWidth":1},"encoding":{"x":{"field":"t1","type":"temporal"},"x2":{"field":"t2"},"y":{"field":"p","type":"quantitative"}}},
   {"mark":{"type":"text","color":"#f23645","fontSize":11,"align":"right","baseline":"middle"},"encoding":{"x":{"field":"tl","type":"temporal"},"y":{"field":"p","type":"quantitative"},"text":{"field":"s"}}}]},
 {"data":{"values":[{"p":0.00178,"t1":"2024-04-26T19:32","t2":"2024-05-08T08:30"}]},
  "mark":{"type":"rule","color":"#f23645","strokeWidth":1,"strokeDash":[1,3]},
  "encoding":{"x":{"field":"t1","type":"temporal"},"x2":{"field":"t2"},"y":{"field":"p","type":"quantitative"}}},
 {"data":{"values":[{"p":0.001752,"t1":"2024-04-26T19:32","t2":"2024-05-08T08:30"}]},
  "mark":{"type":"rule","color":"#ffffff","strokeWidth":3},
  "encoding":{"x":{"field":"t1","type":"temporal"},"x2":{"field":"t2"},"y":{"field":"p","type":"quantitative"}}},
 {"data":{"values":[
   {"t1":"2024-04-26T19:32","p1":0.0019636,"t2":"2024-04-29T20:11","p2":0.0020786},
   {"t1":"2024-04-26T19:32","p1":0.0013789,"t2":"2024-05-01T06:10","p2":0.0015426},
   {"t1":"2024-05-01T09:38","p1":0.0014081,"t2":"2024-05-07T03:29","p2":0.0018759}]},
  "mark":{"type":"rule","color":"#e0e3eb","strokeWidth":1.5,"clip":true},
  "encoding":{"x":{"field":"t1","type":"temporal"},"x2":{"field":"t2"},"y":{"field":"p1","type":"quantitative"},"y2":{"field":"p2"}}},
 {"data":{"values":[
   {"g":"a","n":0,"t":"2024-04-28T07:14","p":0.0019792},{"g":"a","n":1,"t":"2024-04-28T07:00","p":0.0018895},{"g":"a","n":2,"t":"2024-04-28T06:00","p":0.0018115},{"g":"a","n":3,"t":"2024-04-28T04:46","p":0.0017453},{"g":"a","n":4,"t":"2024-04-28T02:32","p":0.0016868},{"g":"a","n":5,"t":"2024-04-28T00:03","p":0.0016361},{"g":"a","n":6,"t":"2024-04-27T20:50","p":0.0015894},{"g":"a","n":7,"t":"2024-04-27T18:21","p":0.001564},{"g":"a","n":8,"t":"2024-04-27T13:23","p":0.001525},{"g":"a","n":9,"t":"2024-04-27T07:11","p":0.0014822},{"g":"a","n":10,"t":"2024-04-27T00:59","p":0.0014471},{"g":"a","n":11,"t":"2024-04-26T20:02","p":0.0014218},{"g":"a","n":12,"t":"2024-04-26T18:00","p":0.001412},
   {"g":"b","n":0,"t":"2024-04-26T18:00","p":0.001262},{"g":"b","n":1,"t":"2024-04-26T20:02","p":0.001258},{"g":"b","n":2,"t":"2024-04-27T01:44","p":0.0012463},{"g":"b","n":3,"t":"2024-04-27T05:57","p":0.0012366},{"g":"b","n":4,"t":"2024-04-27T10:10","p":0.0012268},{"g":"b","n":5,"t":"2024-04-27T15:08","p":0.001219},{"g":"b","n":6,"t":"2024-04-28T01:47","p":0.001215},{"g":"b","n":7,"t":"2024-04-28T12:57","p":0.001214},{"g":"b","n":8,"t":"2024-04-29T00:06","p":0.001215},{"g":"b","n":9,"t":"2024-04-29T10:46","p":0.001219},{"g":"b","n":10,"t":"2024-04-29T19:56","p":0.0012366},{"g":"b","n":11,"t":"2024-04-30T04:07","p":0.0012561},{"g":"b","n":12,"t":"2024-04-30T12:33","p":0.0012775},{"g":"b","n":13,"t":"2024-04-30T20:44","p":0.0013048},{"g":"b","n":14,"t":"2024-05-01T08:23","p":0.0013477}]},
  "mark":{"type":"line","color":"#66bb6a","strokeWidth":2,"strokeDash":[4,4],"interpolate":"cardinal","clip":true},
  "encoding":{"x":{"field":"t","type":"temporal"},"y":{"field":"p","type":"quantitative"},"detail":{"field":"g"},"order":{"field":"n"}}},
 {"data":{"values":[
   {"g":"c","n":0,"t":"2024-04-28T09:28","p":0.0021526},{"g":"c","n":1,"t":"2024-04-28T10:28","p":0.0021643},{"g":"c","n":2,"t":"2024-04-28T12:12","p":0.0021799},{"g":"c","n":3,"t":"2024-04-28T18:24","p":0.0021936},{"g":"c","n":4,"t":"2024-04-29T00:51","p":0.0021819},{"g":"c","n":5,"t":"2024-04-29T02:35","p":0.0021663},{"g":"c","n":6,"t":"2024-04-29T03:20","p":0.0021565},
   {"g":"d","n":0,"t":"2024-05-04T11:02","p":0.0018817},{"g":"d","n":1,"t":"2024-05-04T14:00","p":0.0019246},{"g":"d","n":2,"t":"2024-05-04T17:13","p":0.0019441},{"g":"d","n":3,"t":"2024-05-04T19:42","p":0.001948},{"g":"d","n":4,"t":"2024-05-04T23:10","p":0.0019382},{"g":"d","n":5,"t":"2024-05-05T01:39","p":0.0019148},{"g":"d","n":6,"t":"2024-05-05T03:08","p":0.0018876}]},
  "mark":{"type":"line","color":"#f23645","strokeWidth":2,"strokeDash":[4,4],"interpolate":"cardinal","clip":true},
  "encoding":{"x":{"field":"t","type":"temporal"},"y":{"field":"p","type":"quantitative"},"detail":{"field":"g"},"order":{"field":"n"}}},
 {"data":{"values":[{"t":"2024-04-28T18:09","p":0.0020815}]},
  "mark":{"type":"point","shape":"circle","size":5625,"filled":true,"fill":"#ff9800","fillOpacity":0.35,"stroke":"#ff9800","strokeWidth":2,"strokeOpacity":1,"clip":true},
  "encoding":{"x":{"field":"t","type":"temporal"},"y":{"field":"p","type":"quantitative"}}},
 {"data":{"values":[{"t":"2024-05-01T10:22","p":0.00141}]},
  "mark":{"type":"point","shape":"circle","size":1936,"filled":true,"fill":"#ff9800","fillOpacity":0.35,"stroke":"#ff9800","strokeWidth":2,"strokeOpacity":1},
  "encoding":{"x":{"field":"t","type":"temporal"},"y":{"field":"p","type":"quantitative"}}},
 {"data":{"values":[{"t":"2024-05-04T19:27","p":0.0018632}]},
  "mark":{"type":"point","shape":"circle","size":2304,"filled":true,"fill":"#ff9800","fillOpacity":0.35,"stroke":"#ff9800","strokeWidth":2,"strokeOpacity":1},
  "encoding":{"x":{"field":"t","type":"temporal"},"y":{"field":"p","type":"quantitative"}}},
 {"data":{"values":[{"t1":"2024-05-08T07:48","t2":"2024-05-09T00:36","p1":0.0017978,"p2":0.0017627}]},
  "mark":{"type":"rect","color":"#f23645"},
  "encoding":{"x":{"field":"t1","type":"temporal"},"x2":{"field":"t2"},"y":{"field":"p1","type":"quantitative"},"y2":{"field":"p2"}}},
 {"data":{"values":[{"t1":"2024-05-08T07:48","t2":"2024-05-09T00:36","p1":0.0017608,"p2":0.0017257}]},
  "mark":{"type":"rect","color":"#ffffff"},
  "encoding":{"x":{"field":"t1","type":"temporal"},"x2":{"field":"t2"},"y":{"field":"p1","type":"quantitative"},"y2":{"field":"p2"}}},
 {"data":{"values":[{"t":"2024-05-08T15:56","p":0.00178,"s":"0.001780"}]},
  "mark":{"type":"text","color":"#ffffff","fontSize":12,"fontWeight":"bold","align":"center","baseline":"middle"},
  "encoding":{"x":{"field":"t","type":"temporal"},"y":{"field":"p","type":"quantitative"},"text":{"field":"s"}}},
 {"data":{"values":[{"t":"2024-05-08T15:56","p":0.0017432,"s":"0.001752"}]},
  "mark":{"type":"text","color":"#131722","fontSize":12,"align":"center","baseline":"middle"},
  "encoding":{"x":{"field":"t","type":"temporal"},"y":{"field":"p","type":"quantitative"},"text":{"field":"s"}}},
 {"data":{"values":[
   {"t":"2024-04-26T21:31","p":0.0021435,"s":"HashAI/WETH on Uniswap, 1h, dexscreener.com","k":"l"},
   {"t":"2024-04-29T09:17","p":0.0021435,"s":"O","k":"l"},
   {"t":"2024-04-29T11:00","p":0.0021435,"s":"0.001832","k":"v"},
   {"t":"2024-04-29T23:10","p":0.0021435,"s":"H","k":"l"},
   {"t":"2024-04-30T00:54","p":0.0021435,"s":"0.001834","k":"v"},
   {"t":"2024-04-30T13:18","p":0.0021435,"s":"L","k":"l"},
   {"t":"2024-04-30T14:47","p":0.0021435,"s":"0.001778","k":"v"},
   {"t":"2024-05-01T03:11","p":0.0021435,"s":"C","k":"l"},
   {"t":"2024-05-01T04:40","p":0.0021435,"s":"0.001780","k":"v"},
   {"t":"2024-05-01T17:04","p":0.0021435,"s":"-0.00005200 (-2.84%)","k":"v"},
   {"t":"2024-04-26T21:31","p":0.0021162,"s":"Volume","k":"l"},
   {"t":"2024-04-27T08:11","p":0.0021162,"s":"33.388K","k":"v"}]},
  "layer":[
   {"transform":[{"filter":"datum.k == 'l'"}],
    "mark":{"type":"text","color":"#d1d4dc","fontSize":11,"align":"left","baseline":"middle"},
    "encoding":{"x":{"field":"t","type":"temporal"},"y":{"field":"p","type":"quantitative"},"text":{"field":"s"}}},
   {"transform":[{"filter":"datum.k == 'v'"}],
    "mark":{"type":"text","color":"#f23645","fontSize":11,"align":"left","baseline":"middle"},
    "encoding":{"x":{"field":"t","type":"temporal"},"y":{"field":"p","type":"quantitative"},"text":{"field":"s"}}}]}
]}
]},
{
"width":1182,"height":128,
"view":{"fill":"#161a25","stroke":null},
"layer":[
 {"data":{"values":[{"t1":"2024-04-26T19:32","t2":"2024-05-08T07:48","a":30,"b":70}]},
  "mark":{"type":"rect","color":"#7e57c2","opacity":0.1},
  "encoding":{
   "x":{"field":"t1","type":"temporal","scale":{"domain":[{"year":2024,"month":4,"date":26,"hours":19,"minutes":32},{"year":2024,"month":5,"date":9,"hours":0,"minutes":36}]},
        "axis":{"orient":"bottom","offset":-27,"values":[{"year":2024,"month":4,"date":27},{"year":2024,"month":4,"date":28},{"year":2024,"month":4,"date":29},{"year":2024,"month":4,"date":30},{"year":2024,"month":5,"date":1},{"year":2024,"month":5,"date":2},{"year":2024,"month":5,"date":3},{"year":2024,"month":5,"date":4},{"year":2024,"month":5,"date":5},{"year":2024,"month":5,"date":6},{"year":2024,"month":5,"date":7},{"year":2024,"month":5,"date":8}],
                "labelExpr":"timeFormat(datum.value, date(datum.value) == 1 ? '%b' : '%-d')","labelColor":"#b2b5be","labelFontSize":12,"labelPadding":6,"labelFontWeight":{"condition":{"test":"date(datum.value) == 1","value":"bold"},"value":"normal"},"ticks":false,"tickSize":0,"domain":false,"grid":true,"gridColor":"#242836","title":null}},
   "x2":{"field":"t2"},
   "y":{"field":"a","type":"quantitative","scale":{"domain":[-19.13,101.85],"nice":false,"zero":false},
        "axis":{"orient":"right","offset":-65,"values":[40,80],"format":".2f","labelColor":"#b2b5be","labelFontSize":12,"labelPadding":5,"labelAlign":"left","ticks":false,"tickSize":0,"domain":false,"grid":true,"gridColor":"#242836","title":null}},
   "y2":{"field":"b"}}},
 {"data":{"values":[{"y":70,"t1":"2024-04-26T19:32","t2":"2024-05-08T07:48"},{"y":50,"t1":"2024-04-26T19:32","t2":"2024-05-08T07:48"},{"y":30,"t1":"2024-04-26T19:32","t2":"2024-05-08T07:48"}]},
  "mark":{"type":"rule","color":"#787b86","strokeWidth":1,"strokeDash":[5,4]},
  "encoding":{"x":{"field":"t1","type":"temporal"},"x2":{"field":"t2"},"y":{"field":"y","type":"quantitative"}}},
 {"data":{"name":"k"},
  "mark":{"type":"line","color":"#7e57c2","strokeWidth":1.5},
  "encoding":{"x":{"field":"t","type":"temporal"},"y":{"field":"r","type":"quantitative"}}},
 {"data":{"values":[{"t":"2024-05-01T09:22","r":31.4}]},
  "mark":{"type":"point","shape":"circle","size":1156,"filled":true,"fill":"#ff9800","fillOpacity":0.35,"stroke":"#ff9800","strokeWidth":2,"strokeOpacity":1},
  "encoding":{"x":{"field":"t","type":"temporal"},"y":{"field":"r","type":"quantitative"}}},
 {"data":{"values":[{"t":"2024-05-04T20:54","r":73.5}]},
  "mark":{"type":"point","shape":"circle","size":676,"filled":true,"fill":"#ff9800","fillOpacity":0.35,"stroke":"#ff9800","strokeWidth":2,"strokeOpacity":1},
  "encoding":{"x":{"field":"t","type":"temporal"},"y":{"field":"r","type":"quantitative"}}},
 {"data":{"values":[{"t":"2024-04-26T21:31","r":88.6,"s":"RSI (14)"}]},
  "mark":{"type":"text","color":"#d1d4dc","fontSize":11,"align":"left","baseline":"middle"},
  "encoding":{"x":{"field":"t","type":"temporal"},"y":{"field":"r","type":"quantitative"},"text":{"field":"s"}}},
 {"data":{"values":[{"t":"2024-04-27T08:11","r":88.6,"s":"41.03"}]},
  "mark":{"type":"text","color":"#7e57c2","fontSize":11,"align":"left","baseline":"middle"},
  "encoding":{"x":{"field":"t","type":"temporal"},"y":{"field":"r","type":"quantitative"},"text":{"field":"s"}}}
]},
{
"width":1182,"height":26,
"data":{"values":[{"t":"2024-04-26T20:02","y":0.54,"s":"17","u":"2024-04-27T00:30","w":"TradingView"}]},
"layer":[
 {"mark":{"type":"text","color":"#d1d4dc","fontSize":14,"fontWeight":900,"fontStyle":"italic","align":"left","baseline":"middle"},
  "encoding":{"x":{"field":"t","type":"temporal","scale":{"domain":[{"year":2024,"month":4,"date":26,"hours":19,"minutes":32},{"year":2024,"month":5,"date":9,"hours":0,"minutes":36}]},"axis":null},
   "y":{"field":"y","type":"quantitative","scale":{"domain":[0,1]},"axis":null},"text":{"field":"s"}}},
 {"mark":{"type":"text","color":"#d1d4dc","fontSize":13,"align":"left","baseline":"middle"},
  "encoding":{"x":{"field":"u","type":"temporal"},"y":{"field":"y","type":"quantitative"},"text":{"field":"w"}}}
]}
]
}
